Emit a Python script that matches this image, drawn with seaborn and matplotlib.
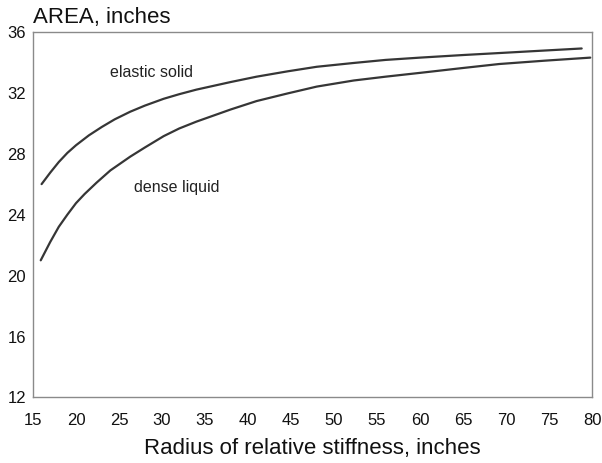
import matplotlib
matplotlib.use("Agg")
import matplotlib.pyplot as plt
import seaborn as sns
import pandas as pd

# ---- data ----
elastic_x = [16.0, 17.0, 18.0, 19.0, 20.0, 21.5, 23.0, 24.5, 26.3, 28.0, 30.2, 32.0,
             34.0, 36.0, 38.0, 41.0, 44.6, 48.0, 52.3, 56.0, 60.0, 65.0, 69.2, 74.0, 78.8]
elastic_y = [26.0, 26.75, 27.45, 28.05, 28.55, 29.2, 29.75, 30.25, 30.75, 31.15, 31.6, 31.9,
             32.2, 32.45, 32.7, 33.05, 33.4, 33.7, 33.95, 34.15, 34.3, 34.47, 34.6, 34.75, 34.9]

dense_x = [15.9, 17.0, 18.0, 19.0, 20.0, 21.0, 22.4, 24.0, 26.3, 28.0, 30.2, 32.0,
           34.0, 36.0, 38.0, 41.0, 44.6, 48.0, 52.3, 56.0, 60.0, 65.0, 69.2, 74.5, 79.8]
dense_y = [21.0, 22.2, 23.2, 24.0, 24.75, 25.35, 26.1, 26.9, 27.8, 28.4, 29.15, 29.65,
           30.1, 30.5, 30.9, 31.45, 31.95, 32.4, 32.8, 33.05, 33.3, 33.62, 33.88, 34.1, 34.3]

x_ticks = [15, 20, 25, 30, 35, 40, 45, 50, 55, 60, 65, 70, 75, 80]
y_ticks = [12, 16, 20, 24, 28, 32, 36]

series_labels = ["elastic solid", "dense liquid"]
title_text = "AREA, inches"
xlabel_text = "Radius of relative stiffness, inches"

df = pd.concat([
    pd.DataFrame({"x": elastic_x, "y": elastic_y, "s": series_labels[0]}),
    pd.DataFrame({"x": dense_x, "y": dense_y, "s": series_labels[1]}),
])

sns.set_theme(style="white")
plt.rcParams["font.family"] = ["Liberation Sans", "DejaVu Sans"]

fig = plt.figure(figsize=(6.02, 4.63), dpi=100)
ax = fig.add_axes([0.0548, 0.1415, 0.9286, 0.79])

sns.lineplot(data=df, x="x", y="y", units="s", estimator=None, sort=False,
             color="#363636", linewidth=1.6, ax=ax, legend=False)

ax.set_xlim(15, 80)
ax.set_ylim(12, 36)
ax.set_xticks(x_ticks)
ax.set_yticks(y_ticks)
ax.tick_params(axis="both", direction="in", length=3, width=0.8, color="#888888",
               labelsize=12, labelcolor="#111111")
ax.tick_params(axis="x", pad=11.5)
ax.tick_params(axis="y", pad=5)
for sp in ax.spines.values():
    sp.set_color("#8a8a8a")
    sp.set_linewidth(1.0)

ax.set_xlabel(xlabel_text, fontsize=16, color="#111111", labelpad=7)
ax.set_ylabel("")
ax.text(0.0, 1.01, title_text, transform=ax.transAxes, ha="left", va="bottom",
        fontsize=16, color="#111111")

ax.text(28.78, 33.3, series_labels[0], ha="center", va="center", fontsize=11.5, color="#222222")
ax.text(31.7, 25.75, series_labels[1], ha="center", va="center", fontsize=11.5, color="#222222")

fig.savefig("out.png", dpi=100)
